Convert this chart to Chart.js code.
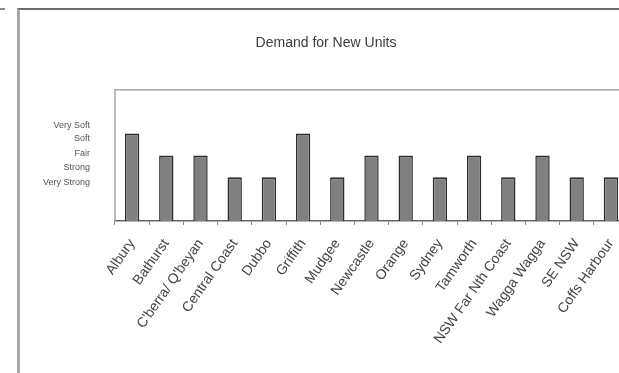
<!DOCTYPE html>
<html>
<head>
<meta charset="utf-8">
<script src="https://cdn.jsdelivr.net/npm/chart.js@4/dist/chart.umd.min.js"></script>
<style>
  html, body { margin: 0; padding: 0; background: #fff; overflow: hidden; }
  body { width: 619px; height: 373px; position: relative; }
  .frame { position: absolute; left: 17px; top: 8px; width: 700px; height: 400px;
           border-top: 2px solid #6a6a6a; border-left: 3px solid #a8a8a8; }
  .stub { position: absolute; left: 0; top: 8px; width: 5px; height: 2px; background: #8a8a8a; }
  #chart { position: absolute; left: 0; top: 0; }
</style>
</head>
<body>
<div class="stub"></div>
<div class="frame"></div>
<canvas id="chart" width="650" height="373"></canvas>
<script>
// regions
const regions = ['Albury', 'Bathurst', "C'berra/ Q'beyan", 'Central Coast', 'Dubbo', 'Griffith',
  'Mudgee', 'Newcastle', 'Orange', 'Sydney', 'Tamworth', 'NSW Far Nth Coast', 'Wagga Wagga',
  'SE NSW', 'Coffs Harbour'];

// demand level for each region
const demand = [4, 3, 3, 2, 2, 4, 2, 3, 3, 2, 3, 2, 3, 2, 2];

// y axis text labels and where they sit on the scale
const levelNames = ['Very Soft', 'Soft', 'Fair', 'Strong', 'Very Strong'];
const levelValues = [4.35, 3.75, 3.08, 2.45, 1.75];

// frame round the plot area (top + left)
const boxPlugin = {
    id: 'plotBox',
    beforeDatasetsDraw(chart) {
        const a = chart.chartArea;
        const ctx = chart.ctx;
        ctx.save();
        ctx.strokeStyle = '#a5a5a5';
        ctx.lineWidth = 1.5;
        ctx.beginPath();
        ctx.moveTo(a.left, a.bottom);
        ctx.lineTo(a.left, a.top);
        ctx.lineTo(a.right + 5, a.top);
        ctx.stroke();
        ctx.restore();
    }
};

const font = "'Liberation Sans', Arial, sans-serif";

new Chart(document.getElementById('chart').getContext('2d'), {
    type: 'bar',
    data: {
        labels: regions,
        datasets: [{
            data: demand,
            backgroundColor: '#808080',
            borderColor: '#2e2e2e',
            borderWidth: { top: 2, left: 1.5, right: 1.5, bottom: 0 },
            borderSkipped: false,
            barPercentage: 0.42,
            categoryPercentage: 1
        }]
    },
    options: {
        responsive: false,
        animation: false,
        layout: { padding: { left: 24, right: 22, top: 0, bottom: 0 } },
        plugins: {
            legend: { display: false },
            tooltip: { enabled: false },
            title: {
                display: true,
                text: 'Demand for New Units',
                color: '#3c3c3c',
                font: { family: font, size: 14, weight: 'normal' },
                padding: { top: 35, bottom: 38 }
            }
        },
        scales: {
            x: {
                offset: true,
                grid: { display: true, drawOnChartArea: false, drawTicks: true, tickLength: 4, color: '#8a8a8a', offset: true },
                border: { display: true, color: '#666', width: 1.5 },
                ticks: {
                    color: '#444',
                    font: { family: font, size: 14 },
                    minRotation: 55,
                    maxRotation: 55,
                    autoSkip: false,
                    padding: 11
                },
                afterFit(scale) { scale.height = 152; }
            },
            y: {
                min: 0,
                max: 6,
                grid: { display: false, drawTicks: false },
                border: { display: false },
                afterBuildTicks(axis) {
                    axis.ticks = levelValues.map(v => ({ value: v }));
                },
                ticks: {
                    color: '#555',
                    font: { family: font, size: 9 },
                    padding: 25,
                    callback: function(value, index) {
                        return levelNames[index];
                    }
                },
                afterFit(scale) { scale.width = 91; }
            }
        }
    },
    plugins: [boxPlugin]
});
</script>
</body>
</html>
